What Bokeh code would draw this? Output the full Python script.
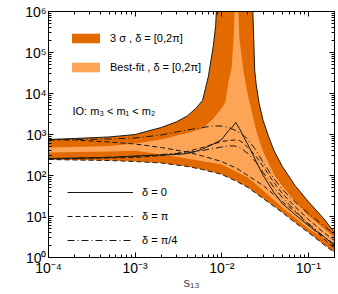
import numpy as np
from math import pi
from bokeh.plotting import figure
from bokeh.models import FixedTicker, LogAxis, Label, Legend, LegendItem
from bokeh.embed import file_html
from bokeh.resources import INLINE

FONT = "Liberation Sans"

# ---------------- data (s13, R_tau_mu) ----------------
up3_left_s = [1e-4, 2e-4, 5e-4, 1e-3, 2e-3, 3e-3, 4e-3, 5e-3, 6e-3, 7e-3, 8e-3, 8.5e-3, 8.8e-3]
up3_left_R = [755, 800, 870, 1000, 1480, 2040, 2830, 4300, 6740, 26000, 148000, 455000, 2e6]
up3_right_s = [0.0226, 0.024, 0.025, 0.027, 0.03, 0.035, 0.04, 0.05, 0.07, 0.1, 0.15, 0.2]
up3_right_R = [2e6, 36000, 15900, 5700, 2190, 846, 407, 166, 57, 23, 8.9, 4.07]
lo3_s = [1e-4, 2e-4, 5e-4, 1e-3, 2e-3, 4e-3, 6e-3, 0.01, 0.015, 0.02, 0.03, 0.05, 0.07, 0.1, 0.15, 0.2]
lo3_R = [246, 239, 232, 219, 202, 166, 140, 106, 71, 51, 27.5, 12.5, 7.1, 4.07, 2.08, 1.32]

upbf_left_s = [1e-4, 2e-4, 5e-4, 1e-3, 2e-3, 4e-3, 6e-3, 8e-3, 0.01, 0.011, 0.012, 0.013, 0.0138, 0.0142]
upbf_left_R = [482, 496, 525, 603, 752, 1088, 1400, 2460, 4460, 6200, 20200, 42000, 290000, 2e6]
upbf_right_s = [0.0153, 0.016, 0.018, 0.02, 0.025, 0.03, 0.04, 0.05, 0.07, 0.1, 0.15, 0.2]
upbf_right_R = [2e6, 207000, 30700, 9200, 1225, 385, 107, 55.5, 23.9, 10.6, 5.2, 3.07]
lobf_s = [1e-4, 5e-4, 1e-3, 2e-3, 4e-3, 0.01, 0.02, 0.03, 0.05, 0.1, 0.2]
lobf_R = [364, 385, 400, 325, 260, 185, 89, 43, 16.6, 5.1, 1.96]

d0_s = [1e-4, 5e-4, 1e-3, 2e-3, 3e-3, 4e-3, 5e-3, 6e-3, 8e-3, 0.01, 0.012, 0.013, 0.0145,
        0.016, 0.018, 0.02, 0.025, 0.03, 0.04, 0.05, 0.07, 0.1, 0.15, 0.2]
d0_R = [260, 275, 299, 316, 325, 344, 385, 444, 586, 755, 1253, 1450, 1963,
        1400, 846, 570, 219, 100, 38.5, 20.7, 11.2, 6.0, 3.25, 1.96]
dpi_up_s = [1e-4, 2e-4, 5e-4, 1e-3, 2e-3, 4e-3, 6e-3, 0.01, 0.015, 0.02, 0.03, 0.05, 0.07, 0.1, 0.15, 0.2]
dpi_up_R = [750, 734, 656, 586, 482, 374, 299, 219, 148, 100, 57, 23, 13.2, 6.4, 2.9, 1.66]
dpi_lo_s = [1e-4, 1e-3, 2e-3, 3e-3, 4e-3, 6e-3, 8e-3, 0.01, 0.012, 0.014, 0.016, 0.018, 0.02,
            0.025, 0.03, 0.04, 0.05, 0.07, 0.1, 0.15, 0.2]
dpi_lo_R = [253, 275, 307, 344, 385, 482, 586, 675, 714, 734, 714, 603, 482,
            290, 166, 67.5, 36.4, 17.5, 8.5, 4.07, 2.6]
dq_up_s = [1e-4, 5e-4, 1e-3, 2e-3, 3e-3, 4e-3, 6e-3, 8e-3, 0.01, 0.012, 0.015, 0.018, 0.02,
           0.025, 0.03, 0.04, 0.05, 0.07, 0.1, 0.15, 0.2]
dq_up_R = [734, 776, 822, 973, 1150, 1290, 1483, 1610, 1610, 1483, 1215, 946, 755,
           407, 207, 84.5, 45.6, 23, 11.8, 6.0, 3.64]
dq_lo_s = [1e-4, 1e-3, 2e-3, 3e-3, 4e-3, 6e-3, 8e-3, 0.01, 0.012, 0.014, 0.016, 0.018, 0.02,
           0.025, 0.03, 0.04, 0.05, 0.07, 0.1, 0.15, 0.2]
dq_lo_R = [253, 290, 325, 344, 364, 407, 456, 496, 525, 525, 482, 407, 344,
           207, 118, 51, 29, 14, 6.75, 3.25, 2.1]

x_major = [1e-4, 1e-3, 1e-2, 1e-1]
x_labels = ["10⁻⁴", "10⁻³", "10⁻²", "10⁻¹"]
y_major = [1, 10, 100, 1e3, 1e4, 1e5, 1e6]
y_labels = ["10⁰", "10¹", "10²", "10³", "10⁴", "10⁵", "10⁶"]

DARK = "#E36A00"
LIGHT = "#FDA456"
LINE = "#1a1a1a"

p = figure(x_axis_type="log", y_axis_type="log", x_range=(1e-4, 0.2), y_range=(1, 1e6),
           frame_width=286, frame_height=246, output_backend="svg", toolbar_location=None,
           min_border_left=48, min_border_right=4, min_border_top=11, min_border_bottom=37)
p.grid.visible = False
p.outline_line_color = "black"
p.outline_line_width = 1
p.background_fill_color = "white"
p.border_fill_color = "white"

x_minor = [m * 10.0 ** e for e in range(-4, 0) for m in range(2, 10)]
y_minor = [m * 10.0 ** e for e in range(0, 6) for m in range(2, 10)]


def style(ax):
    ax.major_tick_in = 5
    ax.major_tick_out = 0
    ax.minor_tick_in = 3
    ax.minor_tick_out = 0
    ax.axis_line_color = "black"
    ax.major_tick_line_color = "black"
    ax.minor_tick_line_color = "black"
    ax.major_label_text_font = FONT
    ax.major_label_text_font_size = "14px"
    ax.major_label_text_color = "black"


p.xaxis.ticker = FixedTicker(ticks=x_major, minor_ticks=x_minor)
p.yaxis.ticker = FixedTicker(ticks=y_major, minor_ticks=y_minor)
style(p.xaxis[0])
style(p.yaxis[0])
p.xaxis.major_label_overrides = dict(zip(x_major, x_labels))
p.yaxis.major_label_overrides = dict(zip(y_major, y_labels))
p.xaxis.major_label_standoff = 2
p.yaxis.major_label_standoff = 2
p.xaxis.axis_label = "s₁₃"
p.xaxis.axis_label_text_font = FONT
p.xaxis.axis_label_text_font_style = "normal"
p.xaxis.axis_label_text_font_size = "13px"
p.xaxis.axis_label_standoff = -4

top = LogAxis(ticker=FixedTicker(ticks=x_major, minor_ticks=x_minor))
style(top)
top.major_label_text_alpha = 0
top.major_label_text_font_size = "1px"
top.major_label_standoff = 0
p.add_layout(top, "above")
right = LogAxis(ticker=FixedTicker(ticks=y_major, minor_ticks=y_minor))
style(right)
right.major_label_text_alpha = 0
right.major_label_text_font_size = "1px"
right.major_label_standoff = 0
p.add_layout(right, "right")

dark_x = up3_left_s + up3_right_s + lo3_s[::-1]
dark_y = up3_left_R + up3_right_R + lo3_R[::-1]
r_dark = p.patch(dark_x, dark_y, fill_color=DARK, line_color=None)
light_x = upbf_left_s + upbf_right_s + lobf_s[::-1]
light_y = upbf_left_R + upbf_right_R + lobf_R[::-1]
r_light = p.patch(light_x, light_y, fill_color=LIGHT, line_color=None)

r_solid = p.line(up3_left_s, up3_left_R, line_color=LINE, line_width=1)
p.line(up3_right_s, up3_right_R, line_color=LINE, line_width=1)
p.line(d0_s, d0_R, line_color=LINE, line_width=1)
DASH = "5 3"
DASHDOT = "7 3 1 3"
r_dash = p.line(lo3_s, lo3_R, line_color=LINE, line_width=1, line_dash=DASH)
p.line(dpi_up_s, dpi_up_R, line_color=LINE, line_width=1, line_dash=DASH)
p.line(dpi_lo_s, dpi_lo_R, line_color=LINE, line_width=1, line_dash=DASH)
r_dd = p.line(dq_up_s, dq_up_R, line_color=LINE, line_width=1, line_dash=DASHDOT)
p.line(dq_lo_s, dq_lo_R, line_color=LINE, line_width=1, line_dash=DASHDOT)

leg1 = Legend(items=[LegendItem(label="3 σ , δ = [0,2π]", renderers=[r_dark]),
                     LegendItem(label="Best-fit , δ = [0,2π]", renderers=[r_light])],
              location=(20, 184))
leg2 = Legend(items=[LegendItem(label="δ = 0", renderers=[r_solid]),
                     LegendItem(label="δ = π", renderers=[r_dash]),
                     LegendItem(label="δ = π/4", renderers=[r_dd])],
              location=(19, 11))
for lg in (leg1, leg2):
    lg.background_fill_alpha = 0
    lg.border_line_alpha = 0
    lg.padding = 0
    lg.margin = 0
    lg.label_text_font = FONT
    lg.label_text_font_size = "11px"
    lg.label_text_color = "black"
leg1.glyph_width = 35
leg1.glyph_height = 12
leg1.label_height = 12
leg1.spacing = 17
leg1.label_standoff = 7
leg2.glyph_width = 66
leg2.glyph_height = 12
leg2.label_height = 12
leg2.spacing = 12
leg2.label_standoff = 9
p.add_layout(leg1)
p.add_layout(leg2)

p.add_layout(Label(x=24, y=147, x_units="screen", y_units="screen", text="IO: m₃ < m₁ < m₂",
                   text_font=FONT, text_font_size="11px", text_baseline="middle", text_color="black"))
p.add_layout(Label(x=-35, y=120, x_units="screen", y_units="screen", text="R", angle=pi / 2,
                   text_font=FONT, text_font_size="13px", text_align="center",
                   text_baseline="middle", text_color="black"))
p.add_layout(Label(x=-29, y=133, x_units="screen", y_units="screen", text="τ μ", angle=pi / 2,
                   text_font=FONT, text_font_size="9px", text_align="center",
                   text_baseline="middle", text_color="black"))

open("out.html", "w").write(file_html(p, INLINE))
